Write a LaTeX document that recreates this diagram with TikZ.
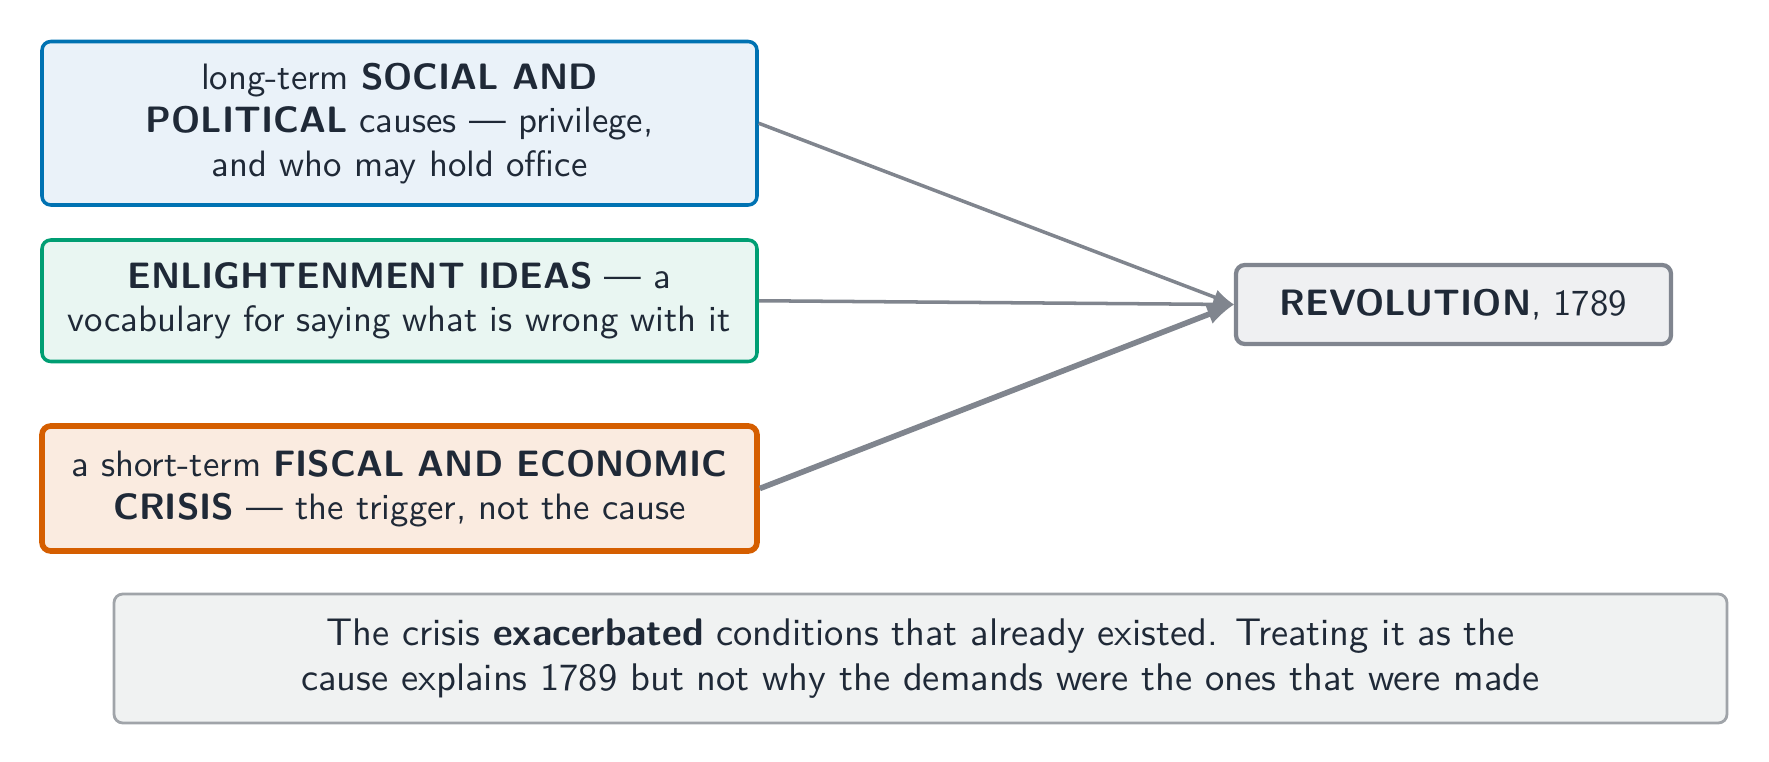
\documentclass[tikz,border=0pt]{standalone}
\usepackage{fontspec}
\usepackage{xcolor}
\usetikzlibrary{positioning}
\definecolor{inkdark}{HTML}{1F2937}
\definecolor{linkgray}{HTML}{80858E}
\definecolor{socialline}{HTML}{0072B2}
\definecolor{socialfill}{HTML}{EAF2F9}
\definecolor{ideasline}{HTML}{009E73}
\definecolor{ideasfill}{HTML}{E9F6F2}
\definecolor{crisisline}{HTML}{D55E00}
\definecolor{crisisfill}{HTML}{FAEBE0}
\definecolor{revoline}{HTML}{80858F}
\definecolor{revofill}{HTML}{EFF0F2}
\definecolor{noteline}{HTML}{A0A4A9}
\definecolor{notefill}{HTML}{F0F2F2}
\begin{document}
\begin{tikzpicture}[
  every node/.style = {shape=rectangle, rounded corners=2.5pt,
    draw, align=center, text=inkdark, inner sep=0pt,
    font=\sffamily\fontsize{10.45pt}{12.4pt}\selectfont},
  cause/.style = {minimum width=7.15cm, line width=1pt},
  link/.style = {->, draw=linkgray, >=latex, line width=1pt}
  ]
  \useasboundingbox (0,0) rectangle (17.69,-7.62);
  \node[cause, draw=socialline, fill=socialfill, minimum height=1.635cm]
    (social) at (3.995,-1.2325)
    {long-term \textbf{SOCIAL AND}\\ \textbf{POLITICAL} causes — privilege,\\ and who may hold office};
  \node[cause, draw=ideasline, fill=ideasfill, minimum height=1.215cm]
    (ideas) at (3.995,-3.0075)
    {\textbf{ENLIGHTENMENT IDEAS} — a\\ vocabulary for saying what is wrong with it};
  \node[cause, draw=crisisline, fill=crisisfill, minimum height=1.25cm, line width=1.6pt]
    (crisis) at (3.995,-4.885)
    {a short-term \textbf{FISCAL AND ECONOMIC}\\ \textbf{CRISIS} — the trigger, not the cause};
  \node[draw=revoline, fill=revofill, minimum width=4.35cm, minimum height=0.79cm, line width=1.2pt]
    (revolution) at (14.535,-3.045)
    {\textbf{REVOLUTION}, 1789};
  \node[draw=noteline, fill=notefill, minimum width=16.13cm, minimum height=1.29cm, line width=0.8pt,
    font=\sffamily\fontsize{10.95pt}{12.9pt}\selectfont]
    (note) at (9.205,-6.585)
    {The crisis \textbf{exacerbated} conditions that already existed. Treating it as the\\ cause explains 1789 but not why the demands were the ones that were made};
  \draw[link] (social.east) -- (revolution.west);
  \draw[link] (ideas.east) -- (revolution.west);
  \draw[link, line width=1.6pt] (crisis.east) -- (revolution.west);
\end{tikzpicture}
\end{document}
